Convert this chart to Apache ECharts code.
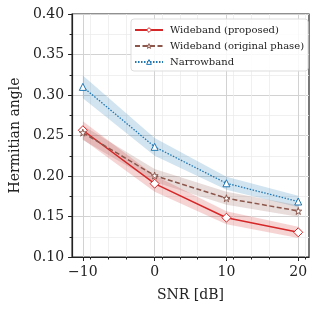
<!DOCTYPE html>
<html><head><meta charset="utf-8">
<script src="https://cdn.jsdelivr.net/npm/echarts@6/dist/echarts.min.js"></script>
<style>html,body{margin:0;padding:0;background:#fff}#c{width:318px;height:311px}</style>
</head><body><div id="c"></div>
<script>
const snr = [-10, 0, 10, 20];
const proposed = [0.2565, 0.1905, 0.1485, 0.1305];
const proposedErr = [0.011, 0.010, 0.008, 0.007];
const original = [0.2535, 0.2005, 0.1725, 0.1568];
const originalErr = [0.009, 0.008, 0.008, 0.007];
const narrow = [0.3100, 0.2360, 0.1910, 0.1685];
const narrowErr = [0.014, 0.011, 0.008, 0.007];
const names = ['Wideband (proposed)', 'Wideband (original phase)', 'Narrowband'];
const xTicks = [-10, 0, 10, 20];

const RED = '#d62728', BROWN = '#8c564b', BLUE = '#1f77b4';
const FONT = 'DejaVu Serif';
const STAR = 'path://M50,0 L61.8,35.4 L100,35.4 L69.1,57.3 L80.9,92.7 L50,70.8 L19.1,92.7 L30.9,57.3 L0,35.4 L38.2,35.4 Z';

function band(vals, errs, color) {
  return {
    type: 'custom', silent: true, z: 1,
    data: snr.map((x, i) => [x, vals[i] - errs[i], vals[i] + errs[i]]),
    renderItem: function (params, api) {
      if (params.dataIndex !== 0) return;
      const up = snr.map((x, i) => api.coord([x, vals[i] + errs[i]]));
      const lo = snr.map((x, i) => api.coord([x, vals[i] - errs[i]])).reverse();
      return { type: 'polygon', shape: { points: up.concat(lo) }, style: { fill: color, opacity: 0.2 } };
    },
    encode: { x: 0, y: [1, 2] }
  };
}
function line(name, vals, color, type, width, symbol, size) {
  return {
    name: name, type: 'line', z: 3,
    data: snr.map((x, i) => [x, vals[i]]),
    symbol: symbol, symbolSize: size, showAllSymbol: true,
    lineStyle: { color: color, width: width, type: type },
    itemStyle: { color: '#fff', borderColor: color, borderWidth: 1 },
    emphasis: { disabled: true }, animation: false
  };
}

const chart = echarts.init(document.getElementById('c'), null, { renderer: 'canvas' });
chart.setOption({
  animation: false,
  textStyle: { fontFamily: FONT },
  grid: { left: 66, right: 9, top: 14, bottom: 54, show: true, borderColor: '#222', borderWidth: 1.2, backgroundColor: 'transparent' },
  legend: {
    data: names, orient: 'vertical', left: 131, top: 19,
    padding: [6, 4, 4, 3], itemWidth: 28, itemHeight: 6, itemGap: 6,
    itemStyle: { color: '#fff', borderWidth: 1 },
    backgroundColor: 'rgba(255,255,255,0.85)', borderColor: '#dddddd', borderWidth: 1, borderRadius: 3,
    textStyle: { fontFamily: FONT, fontSize: 10, color: '#222', padding: [0, 0, 0, 2] }
  },
  xAxis: {
    type: 'value', min: -11.5, max: 21.5, interval: 10,
    name: 'SNR [dB]', nameLocation: 'middle', nameGap: 31,
    nameTextStyle: { fontFamily: FONT, fontSize: 14, color: '#222' },
    axisLine: { show: true, onZero: false, lineStyle: { color: '#222', width: 1.2 } },
    axisTick: { show: true, length: 4, inside: false, lineStyle: { color: '#222' }, customValues: xTicks },
    minorTick: { show: true, splitNumber: 4, length: 2.5, lineStyle: { color: '#222' } },
    axisLabel: { fontFamily: FONT, fontSize: 14, color: '#222', margin: 8, customValues: xTicks,
      formatter: v => (v < 0 ? '\u2212' + Math.abs(v) : String(v)) },
    splitLine: { show: true, lineStyle: { color: '#d2d2d2', width: 1 } },
    minorSplitLine: { show: true, lineStyle: { color: '#ececec', width: 0.8 } }
  },
  yAxis: {
    type: 'value', min: 0.10, max: 0.40, interval: 0.05,
    name: 'Hermitian angle', nameLocation: 'middle', nameGap: 47,
    nameTextStyle: { fontFamily: FONT, fontSize: 14, color: '#222' },
    axisLine: { show: true, onZero: false, lineStyle: { color: '#222', width: 1.2 } },
    axisTick: { show: true, length: 4, lineStyle: { color: '#222' } },
    minorTick: { show: true, splitNumber: 2, length: 2.5, lineStyle: { color: '#222' } },
    axisLabel: { fontFamily: FONT, fontSize: 14, color: '#222', margin: 8, formatter: v => v.toFixed(2) },
    splitLine: { show: true, lineStyle: { color: '#d2d2d2', width: 1 } },
    minorSplitLine: { show: true, lineStyle: { color: '#ececec', width: 0.8 } }
  },
  series: [
    band(narrow, narrowErr, BLUE),
    band(original, originalErr, BROWN),
    band(proposed, proposedErr, RED),
    line(names[0], proposed, RED, 'solid', 1.5, 'diamond', 9),
    line(names[1], original, BROWN, [5, 2.5], 1.5, STAR, 7),
    line(names[2], narrow, BLUE, [1.5, 1.5], 1.3, 'triangle', 7)
  ]
});
</script></body></html>
